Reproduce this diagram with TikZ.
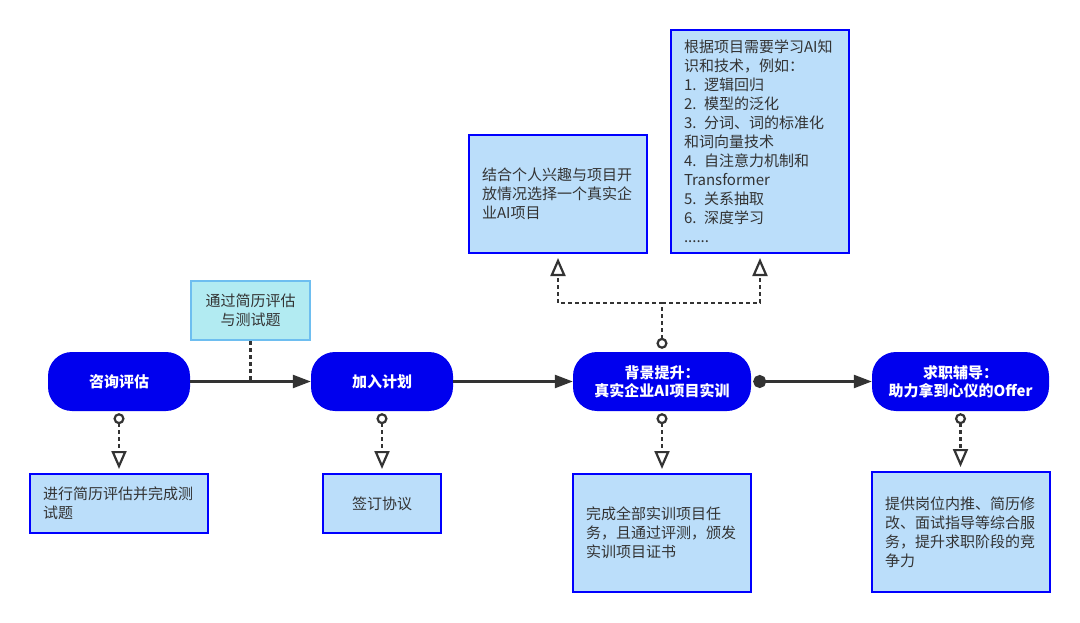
\documentclass[tikz,border=0pt]{standalone}
\usepackage{fontspec}
\setmainfont{Noto Sans CJK SC}
\usetikzlibrary{arrows.meta}
\definecolor{pillblue}{RGB}{0,0,238}
\definecolor{boxfill}{RGB}{187,222,250}
\definecolor{boxline}{RGB}{0,0,255}
\definecolor{txt}{RGB}{51,51,51}
\definecolor{tealfill}{RGB}{178,235,242}
\definecolor{tealline}{RGB}{110,190,240}
\definecolor{conncol}{RGB}{51,51,51}
\begin{document}
\begin{tikzpicture}[x=1pt,y=-1pt,
  pill/.style={fill=pillblue, rounded corners=24pt, minimum height=59pt, text=white,
    font=\fontsize{15}{18}\selectfont\bfseries, align=center, inner sep=0pt},
  infobox/.style={draw=boxline, line width=2pt, fill=boxfill, text=txt,
    font=\fontsize{15}{19}\selectfont, inner xsep=13pt, inner ysep=0pt},
  leftbox/.style={infobox, text width=152pt, align=left},
  notebox/.style={draw=tealline, line width=2pt, fill=tealfill, text=txt,
    font=\fontsize{15}{19}\selectfont, align=center, minimum width=119pt, minimum height=59pt, inner sep=0pt},
  conn/.style={draw=conncol, line width=2.4pt, -{Triangle[length=18pt,width=13pt]}},
  dotline/.style={draw=conncol, line width=2.4pt, dash pattern=on 4pt off 3pt},
  opentip/.style={},
  dotarrow/.style={dotline, {Circle[fill=white,length=11pt,line width=2.2pt]}-{Triangle[fill=white,length=18pt,width=15pt,line width=2.2pt]}, shorten >=4pt},
  dotend/.style={dotline, -{Triangle[fill=white,length=18pt,width=15pt,line width=2.2pt]}, shorten >=4pt}
]
\useasboundingbox (0,0) rectangle (1080,623);

% pills
\node[pill, minimum width=142pt] (p1) at (119,381.5) {咨询评估};
\node[pill, minimum width=142pt] (p2) at (382,381.5) {加入计划};
\node[pill, minimum width=178pt] (p3) at (662,381.5) {背景提升：\\真实企业AI项目实训};
\node[pill, minimum width=177pt] (p4) at (960.5,381.5) {求职辅导：\\助力拿到心仪的Offer};

% note
\node[notebox] (n1) at (250.5,310.5) {通过简历评估\\与测试题};

% bottom boxes
\node[leftbox, minimum height=59pt] (b1) at (119,503.5) {进行简历评估并完成测\\试题};
\node[infobox, minimum width=118pt, minimum height=59pt] (b2) at (382,503.5) {签订协议};
\node[leftbox, minimum height=118pt] (b3) at (662,533) {完成全部实训项目任\\务，且通过评测，颁发\\实训项目证书};
\node[leftbox, minimum height=120pt] (b4) at (961,532) {提供岗位内推、简历修\\改、面试指导等综合服\\务，提升求职阶段的竞\\争力};

% top boxes
\node[leftbox, minimum height=118pt] (t1) at (558,194) {结合个人兴趣与项目开\\放情况选择一个真实企\\业AI项目};
\node[leftbox, minimum height=223pt] (t2) at (760,141.5) {根据项目需要学习AI知\\识和技术，例如：\\1. 逻辑回归\\2. 模型的泛化\\3. 分词、词的标准化\\和词向量技术\\4. 自注意力机制和\\Transformer\\5. 关系抽取\\6. 深度学习\\......};

% main flow
\draw[conn] (p1.east) -- (p2.west);
\draw[dotline] (n1.south) -- (n1.south |- p1.east);
\draw[conn] (p2.east) -- (p3.west);
\draw[conn, {Circle[length=13pt]}-{Triangle[length=18pt,width=13pt]}, shorten <=2pt] (p3.east) -- (p4.west);

% down branches
\draw[dotarrow, shorten <=2pt] (p1.south) -- (b1.north);
\draw[dotarrow, shorten <=2pt] (p2.south) -- (b2.north);
\draw[dotarrow, shorten <=2pt] (p3.south) -- (p3.south |- b3.north);
\draw[dotarrow, shorten <=2pt] (p4.south) -- (p4.south |- b4.north);

% up branches
\coordinate (j) at (662,303);
\draw[dotarrow, shorten <=3pt] (p3.north) -- (j) -| (t1.south);
\draw[dotend] (j) -| (t2.south);
\end{tikzpicture}
\end{document}
